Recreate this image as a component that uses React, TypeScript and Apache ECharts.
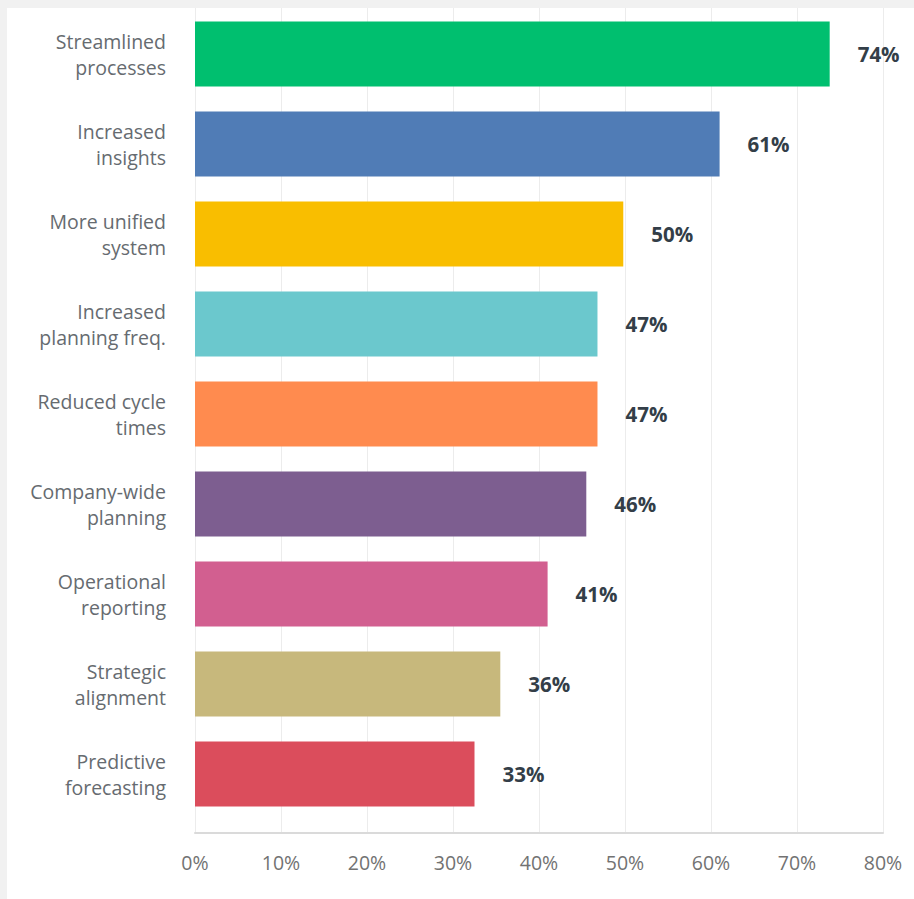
import React, { useEffect, useRef } from "react";
import * as echarts from "echarts";

const categories = [
  "Streamlined\nprocesses",
  "Increased\ninsights",
  "More unified\nsystem",
  "Increased\nplanning freq.",
  "Reduced cycle\ntimes",
  "Company-wide\nplanning",
  "Operational\nreporting",
  "Strategic\nalignment",
  "Predictive\nforecasting",
];
const values = [73.8, 61.0, 49.8, 46.8, 46.8, 45.5, 41.0, 35.5, 32.5];
const barColors = [
  "#00bf6f",
  "#507cb6",
  "#f9be00",
  "#6bc8cd",
  "#ff8b4f",
  "#7d5e90",
  "#d25f90",
  "#c7b87c",
  "#db4d5c",
];
const xTicks = [0, 10, 20, 30, 40, 50, 60, 70, 80];

export default function App() {
  const ref = useRef<HTMLDivElement>(null);
  useEffect(() => {
    if (!ref.current) return;
    const chart = echarts.init(ref.current, undefined, { renderer: "svg" });
    const font = "'Open Sans', 'Noto Sans', sans-serif";
    chart.setOption({
      animation: false,
      backgroundColor: "#ffffff",
      grid: [
        { left: 188, right: 31, top: 1, height: 810, containLabel: false },
        { left: 188, right: 31, top: 0, bottom: 66, containLabel: false },
      ],
      xAxis: [
        {
          gridIndex: 0,
          type: "value",
          min: 0,
          max: 80,
          interval: 10,
          show: false,
        },
        {
          gridIndex: 1,
          type: "value",
          min: xTicks[0],
          max: xTicks[xTicks.length - 1],
          interval: 10,
          axisLine: { show: true, lineStyle: { color: "#dadada", width: 2 } },
          axisTick: { show: false },
          splitLine: { show: true, lineStyle: { color: "#ececec", width: 1 } },
          axisLabel: {
            formatter: "{value}%",
            color: "#727272",
            fontSize: 19.5,
            fontFamily: font,
            margin: 19,
          },
        },
      ],
      yAxis: [
        {
          gridIndex: 0,
          type: "category",
          data: categories,
          inverse: true,
          axisLine: { show: false },
          axisTick: { show: false },
          splitLine: { show: false },
          axisLabel: {
            color: "#666b70",
            fontSize: 19.5,
            fontFamily: font,
            lineHeight: 26,
            align: "right",
            margin: 29,
          },
        },
        {
          gridIndex: 1,
          type: "value",
          show: false,
        },
      ],
      series: [
        {
          type: "bar",
          xAxisIndex: 0,
          yAxisIndex: 0,
          barWidth: 65,
          data: values.map((v, i) => ({
            value: v,
            itemStyle: { color: barColors[i] },
          })),
          label: {
            show: true,
            position: "right",
            distance: 28,
            formatter: (p: any) => Math.round(p.value) + "%",
            color: "#333e48",
            fontSize: 20.5,
            fontWeight: "bold",
            fontFamily: font,
          },
        },
      ],
    });
    return () => chart.dispose();
  }, []);
  return (
    <div
      style={{
        position: "fixed",
        left: 0,
        top: 0,
        width: 914,
        height: 899,
        background: "#f1f1f1",
      }}
    >
      <div
        ref={ref}
        style={{
          position: "absolute",
          left: 7,
          top: 8,
          width: 907,
          height: 891,
        }}
      />
    </div>
  );
}
